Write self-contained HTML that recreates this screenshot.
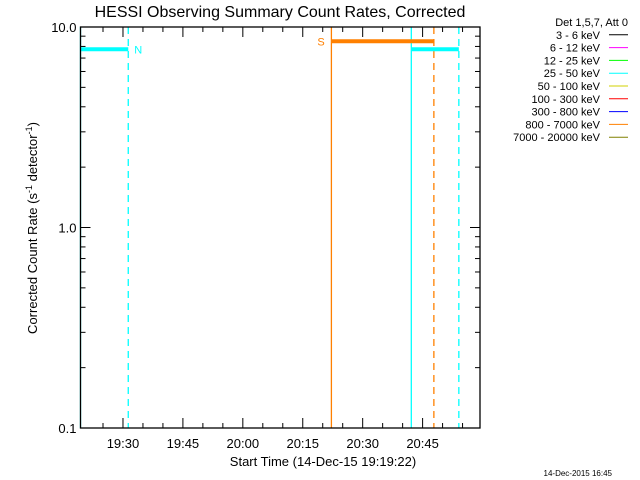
<!DOCTYPE html>
<html><head><meta charset="utf-8"><style>
body{margin:0;background:#fff}
svg{display:block;font-family:"Liberation Sans",sans-serif}
</style></head><body>
<svg id="c" width="640" height="480">
<rect width="640" height="480" fill="#fff"/>
<text x="280" y="17" font-size="16" text-anchor="middle">HESSI Observing Summary Count Rates, Corrected</text>
<text x="323" y="466" font-size="13" text-anchor="middle">Start Time (14-Dec-15 19:19:22)</text>
<text transform="translate(37,228) rotate(-90)" font-size="13" text-anchor="middle">Corrected Count Rate (s<tspan dy="-5" font-size="9">-1</tspan><tspan dy="5"> detector</tspan><tspan dy="-5" font-size="9">-1</tspan><tspan dy="5">)</tspan></text>
<text x="612" y="476" font-size="8" text-anchor="end">14-Dec-2015 16:45</text>
<g id="plot"></g>
<g id="legend"></g>
</svg>
<script>
// minutes since 00:00
const tStart = 19*60+19+22/60, tEnd = tStart+100;
const xTickLabels = ["19:30","19:45","20:00","20:15","20:30","20:45"];
const xTickMinutes = [1170,1185,1200,1215,1230,1245];
const yTickValues = [0.1,1,10];
const yTickLabels = ["0.1","1.0","10.0"];
// segments: [start, end, value, color]
const segStart = [tStart, 1222.17, 1242.17];
const segEnd = [1171.32, 1247.82, 1254.07];
const segValue = [7.74, 8.49, 7.74];
const segColor = ["#00ffff","#ff8000","#00ffff"];
// vertical markers
const markTime = [tStart, 1171.32, 1222.17, 1242.17, 1247.82, 1254.07];
const markColor = ["#00ffff","#00ffff","#ff8000","#00ffff","#ff8000","#00ffff"];
const markDash = [false,true,false,false,true,true];
const flagText = ["N","S"];
const flagTime = [1171.32, 1222.17];
const flagValue = [7.74, 8.49];
const flagColor = ["#00ffff","#ff8000"];
const legendLabels = ["Det 1,5,7, Att 0","3 - 6 keV","6 - 12 keV","12 - 25 keV","25 - 50 keV","50 - 100 keV","100 - 300 keV","300 - 800 keV","800 - 7000 keV","7000 - 20000 keV"];
const legendColors = [null,"#000000","#ff00ff","#00ff00","#00ffff","#d0d000","#ff0000","#0000ff","#ff8000","#808000"];

const L=80.5,R=480,T=27,B=428;
const xs=t=>L+(t-tStart)/(tEnd-tStart)*(R-L);
const ys=v=>B-(Math.log10(v)+1)/2*(B-T);
const NS="http://www.w3.org/2000/svg";
const plot=document.getElementById('plot');
function mk(tag,at,par){const e=document.createElementNS(NS,tag);for(const k in at)e.setAttribute(k,at[k]);(par||plot).appendChild(e);return e;}

markTime.forEach((t,i)=>{
  const e=mk('line',{x1:xs(t),x2:xs(t),y1:T,y2:B,stroke:markColor[i],'stroke-width':1.3});
  if(markDash[i])e.setAttribute('stroke-dasharray','7,5');
  
  
});
segStart.forEach((s,i)=>{
  const e=mk('line',{x1:xs(s),x2:xs(segEnd[i]),y1:ys(segValue[i]),y2:ys(segValue[i]),stroke:segColor[i],'stroke-width':4});
  
  
});
flagText.forEach((f,i)=>{
  const x=i==0?xs(flagTime[i])+6:xs(flagTime[i])-14;
  const e=mk('text',{x:x,y:ys(flagValue[i])+4,fill:flagColor[i],'font-size':11});
  e.textContent=f;
  
  
});
// axes frame
const fr=mk('rect',{x:L,y:T,width:R-L,height:B-T,fill:'none',stroke:'#000','stroke-width':1.3});


// x ticks minor every 5 min
for(let m=1165;m<=tEnd;m+=5){
  const x=xs(m),maj=(m%15===0);const len=maj?10:5;
  mk('line',{x1:x,x2:x,y1:B,y2:B-len,stroke:'#000'});
  mk('line',{x1:x,x2:x,y1:T,y2:T+len,stroke:'#000'});
}
xTickMinutes.forEach((m,i)=>{
  const e=mk('text',{x:xs(m),y:B+20,'font-size':13,'text-anchor':'middle'});
  e.textContent=xTickLabels[i];
  
  
});
// y ticks
for(let d=0.1;d<10;d*=10){for(let k=1;k<=9;k++){const v=d*k,y=ys(v),len=k==1?10:5;
  mk('line',{x1:L,x2:L+len,y1:y,y2:y,stroke:'#000'});mk('line',{x1:R,x2:R-len,y1:y,y2:y,stroke:'#000'});}}
yTickValues.forEach((v,i)=>{
  const e=mk('text',{x:L-4,y:ys(v)+5,'font-size':13,'text-anchor':'end'});
  e.textContent=yTickLabels[i];
  
  
});
const lg=document.getElementById('legend');
legendLabels.forEach((s,i)=>{
  const y=26+i*12.8;
  const t=mk('text',{x:600,y:y,'font-size':11,'text-anchor':'end'},lg);
  if(i===0)t.setAttribute('x',628);
  t.textContent=s;
  
  
  if(legendColors[i]){const l=mk('line',{x1:609,x2:628,y1:y-4,y2:y-4,stroke:legendColors[i]},lg);
    
    }
});
</script>
</body></html>
